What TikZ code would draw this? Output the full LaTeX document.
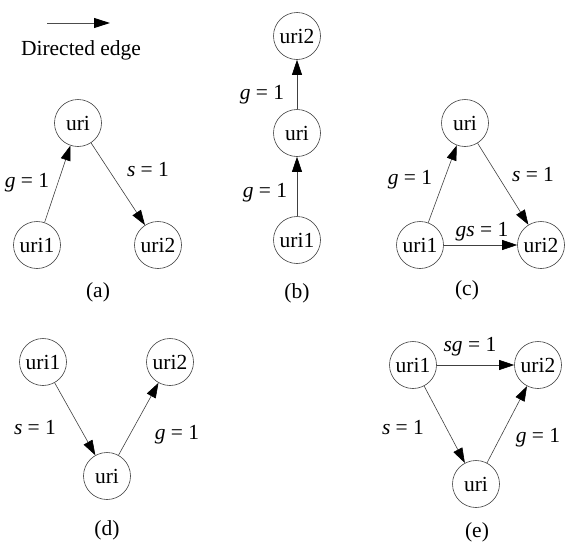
\documentclass[tikz,border=0pt]{standalone}
\usepackage{fontspec}
\setmainfont{Liberation Serif}
\usetikzlibrary{arrows.meta}
\begin{document}
\begin{tikzpicture}[x=1pt,y=-1pt,
  vtx/.style={circle,draw=black!75,line width=0.6pt,minimum size=47pt,inner sep=0pt,font=\fontsize{21.5}{25}\selectfont},
  lbl/.style={font=\fontsize{21.5}{25}\selectfont,inner sep=1pt},
  edge/.style={draw=black!75,line width=0.6pt,-{Triangle[length=15pt,width=10pt,color=black]}}]
\useasboundingbox (0,0) rectangle (571,549);
% legend
\coordinate (la) at (47,23);
\coordinate (lb) at (110,23);
\draw[draw=black!70,line width=1pt,-{Triangle[length=16pt,width=10pt,color=black]}] (la) -- (lb);
\node[lbl] (legend) at (81,50) {Directed edge};
% (a)
\node[vtx] (a0) at (78,123) {uri};
\node[vtx] (a1) at (37,245) {uri1};
\node[vtx] (a2) at (158,245) {uri2};
\draw[edge] (a1) -- (a0);
\draw[edge] (a0) -- (a2);
\node[lbl] (al1) at (27,183) {\textit{g} = 1};
\node[lbl] (al2) at (148,170) {\textit{s} = 1};
\node[lbl] (ac) at (98,292) {(a)};
% (b)
\node[vtx] (b2) at (297,36) {uri2};
\node[vtx] (b0) at (297,133) {uri};
\node[vtx] (b1) at (297,240) {uri1};
\draw[edge] (b1) -- (b0);
\draw[edge] (b0) -- (b2);
\node[lbl] (bl1) at (262,95) {\textit{g} = 1};
\node[lbl] (bl2) at (265,193) {\textit{g} = 1};
\node[lbl] (bc) at (297,293) {(b)};
% (c)
\node[vtx] (c0) at (465,123) {uri};
\node[vtx] (c1) at (420,245) {uri1};
\node[vtx] (c2) at (541,245) {uri2};
\draw[edge] (c1) -- (c0);
\draw[edge] (c0) -- (c2);
\draw[edge] (c1) -- (c2);
\node[lbl] (cl1) at (410,180) {\textit{g} = 1};
\node[lbl] (cl2) at (533,175) {\textit{s} = 1};
\node[lbl] (cl3) at (482,232) {\textit{gs} = 1};
\node[lbl] (cc) at (467,290) {(c)};
% (d)
\node[vtx] (d1) at (43,362) {uri1};
\node[vtx] (d2) at (170,362) {uri2};
\node[vtx] (d0) at (107,476) {uri};
\draw[edge] (d1) -- (d0);
\draw[edge] (d0) -- (d2);
\node[lbl] (dl1) at (35,428) {\textit{s} = 1};
\node[lbl] (dl2) at (177,435) {\textit{g} = 1};
\node[lbl] (dc) at (107,530) {(d)};
% (e)
\node[vtx] (e1) at (413,365) {uri1};
\node[vtx] (e2) at (538,365) {uri2};
\node[vtx] (e0) at (476,484) {uri};
\draw[edge] (e1) -- (e0);
\draw[edge] (e0) -- (e2);
\draw[edge] (e1) -- (e2);
\node[lbl] (el1) at (470,347) {\textit{sg} = 1};
\node[lbl] (el2) at (403,428) {\textit{s} = 1};
\node[lbl] (el3) at (538,438) {\textit{g} = 1};
\node[lbl] (ec) at (477,532) {(e)};
\end{tikzpicture}
\end{document}
